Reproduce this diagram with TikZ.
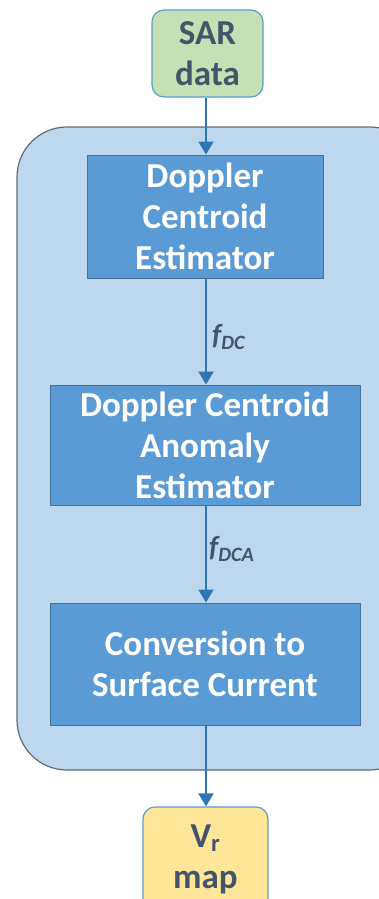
\documentclass[tikz,border=0pt]{standalone}
\usepackage{fontspec}
\setmainfont{Carlito}
\usetikzlibrary{arrows.meta}
\definecolor{panel}{HTML}{BDD7EE}
\definecolor{panelline}{HTML}{5F6B78}
\definecolor{stage}{HTML}{5B9BD5}
\definecolor{stageline}{HTML}{41719C}
\definecolor{flow}{HTML}{2E75B6}
\definecolor{inbox}{HTML}{C5E0B4}
\definecolor{outbox}{HTML}{FFE699}
\definecolor{ink}{HTML}{44546A}
\newcommand{\boxtxt}{\fontsize{35}{41}\selectfont\bfseries}
\newcommand{\labtxt}{\fontsize{29}{32}\selectfont\bfseries\itshape}

\begin{document}
\begin{tikzpicture}[x=1pt,y=-1pt,
  stagebox/.style={draw=stageline,line width=1pt,fill=stage,text=white,align=center,inner sep=0pt,font=\boxtxt},
  endbox/.style={draw=stage,line width=1.2pt,rounded corners=12pt,align=center,inner sep=0pt,text=ink,font=\boxtxt},
  flowline/.style={draw=flow,line width=2pt,-{Triangle[width=15pt,length=13pt]}},
  flowlab/.style={text=ink,font=\labtxt,anchor=west,inner sep=0pt}]
\clip (0,0) rectangle (379,899);
\useasboundingbox (0,0) rectangle (379,899);
% container
\draw[fill=panel,draw=panelline,line width=1.2pt,rounded corners=50pt] (17,127) rectangle (420,770);
% blocks
\node[endbox,fill=inbox,minimum width=111pt,minimum height=87pt] (sar) at (207.5,53.5) {SAR\\data};
\node[stagebox,minimum width=236pt,minimum height=123pt] (dce) at (205,216.5) {Doppler\\Centroid\\Estimator};
\node[stagebox,minimum width=310pt,minimum height=120pt] (dcae) at (205,445) {Doppler Centroid\\Anomaly\\Estimator};
\node[stagebox,minimum width=310pt,minimum height=122pt] (conv) at (205,664) {Conversion to\\Surface Current};
\node[endbox,fill=outbox,minimum width=125pt,minimum height=140pt] (vr) at (205.5,877) {V\textsubscript{r}\\map\\\mbox{}};
% flow
\draw[flowline] (sar.south -| 206,0) -- (dce.north -| 206,0);
\draw[flowline] (dce.south -| 206,0) -- (dcae.north -| 206,0);
\draw[flowline] (dcae.south -| 206,0) -- (conv.north -| 206,0);
\draw[flowline] (conv.south -| 206,0) -- (vr.north -| 206,0);
\node[flowlab] (fdc) at (212,337) {f\textsubscript{DC}};
\node[flowlab] (fdca) at (209,549) {f\textsubscript{DCA}};
\end{tikzpicture}
\end{document}
